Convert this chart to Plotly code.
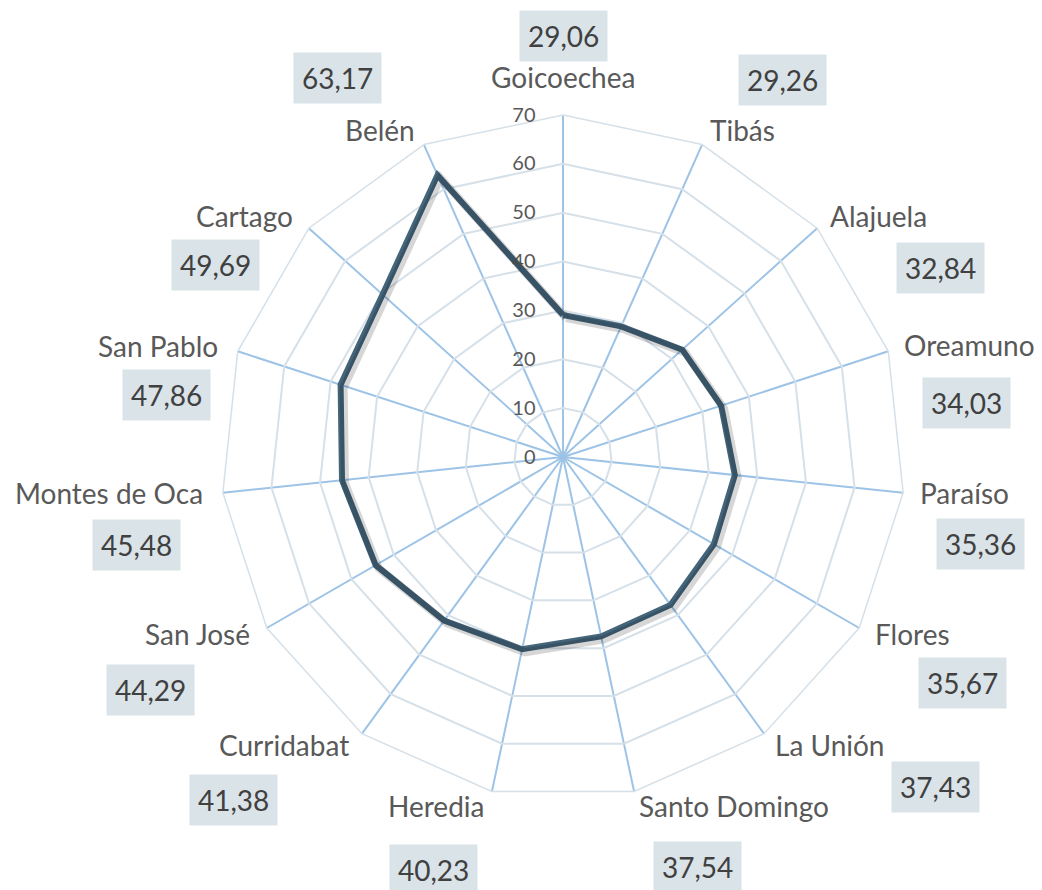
import plotly.graph_objects as go

categories = ["Goicoechea", "Tibás", "Alajuela", "Oreamuno", "Paraíso", "Flores",
              "La Unión", "Santo Domingo", "Heredia", "Curridabat", "San José",
              "Montes de Oca", "San Pablo", "Cartago", "Belén"]
values = [29.06, 29.26, 32.84, 34.03, 35.36, 35.67, 37.43, 37.54, 40.23, 41.38,
          44.29, 45.48, 47.86, 49.69, 63.17]
radial_ticks = [0, 10, 20, 30, 40, 50, 60, 70]

# ---- layout only: page-pixel anchor points of the text labels ----
W, H = 1042, 890
PAGE_OFF = 8  # default body margin of the html page
SH = 3        # shadow offset in px
ML, MR, MT, MB = 184 - PAGE_OFF, 100 + PAGE_OFF, 115 - PAGE_OFF, 91 + PAGE_OFF - SH
value_label_pos = [(563, 36), (782, 80), (940, 268), (966, 403), (981, 544), (962, 683),
                   (935, 787), (697, 867), (433, 870), (233, 800), (150, 690), (136, 545),
                   (166, 395), (215, 265), (337, 78)]
cat_label_pos = [(563, 77, "center"), (708, 130, "left"), (828, 216, "left"),
                 (902, 345, "left"), (918, 493, "left"), (873, 634, "left"),
                 (773, 745, "left"), (637, 806, "left"), (486, 806, "right"),
                 (351, 745, "right"), (252, 634, "right"), (205, 493, "right"),
                 (220, 346, "right"), (295, 216, "right"), (417, 130, "right")]

def fmt(v):
    return f"{v:.2f}".replace(".", ",")

FONT = "Lato"
pw = W - ML - MR
ph = H - MT - MB
D = 684  # diameter in px
cx_px = 563 - PAGE_OFF - ML
main_x = [(cx_px - D / 2) / pw, (cx_px + D / 2) / pw]
shad_x = [(cx_px - D / 2 + SH) / pw, (cx_px + D / 2 + SH) / pw]
main_y = [SH / ph, 1]
shad_y = [0, 1 - SH / ph]

fig = go.Figure()
closed_c = categories + [categories[0]]
closed_v = values + [values[0]]
fig.add_trace(go.Scatterpolar(r=closed_v, theta=closed_c, mode="lines", subplot="polar2",
                              line=dict(color="rgba(0,0,0,0.16)", width=8),
                              hoverinfo="skip", showlegend=False))
fig.add_trace(go.Scatterpolar(r=closed_v, theta=closed_c, mode="lines", subplot="polar",
                              line=dict(color="#436479", width=6),
                              showlegend=False))

def to_paper(px, py):
    fx, fy = px - PAGE_OFF, py - PAGE_OFF
    return (fx - ML) / pw, (H - MB - fy) / ph

for (px, py), v in zip(value_label_pos, values):
    x, y = to_paper(px, py)
    fig.add_annotation(x=x, y=y, xref="paper", yref="paper",
                       text=fmt(v), showarrow=False, bgcolor="#dae3e8",
                       borderpad=8, font=dict(family=FONT, size=28, color="#404040"),
                       xanchor="center", yanchor="middle")

for (px, py, anc), name in zip(cat_label_pos, categories):
    x, y = to_paper(px, py)
    fig.add_annotation(x=x, y=y, xref="paper", yref="paper",
                       text=name, showarrow=False,
                       font=dict(family=FONT, size=28, color="#595959"),
                       xanchor=anc, yanchor="middle")

angular_common = dict(direction="clockwise", rotation=90,
                      categoryorder="array", categoryarray=categories,
                      showticklabels=False, ticks="")
fig.update_layout(
    width=W, height=H,
    margin=dict(l=ML, r=MR, t=MT, b=MB),
    paper_bgcolor="white", plot_bgcolor="white",
    font=dict(family=FONT, color="#595959"),
    polar2=dict(
        bgcolor="rgba(0,0,0,0)",
        gridshape="linear",
        domain=dict(x=shad_x, y=shad_y),
        radialaxis=dict(range=[0, 70], showgrid=False, showline=False,
                        showticklabels=False, ticks=""),
        angularaxis=dict(showgrid=False, showline=False, **angular_common),
    ),
    polar=dict(
        bgcolor="rgba(0,0,0,0)",
        gridshape="linear",
        domain=dict(x=main_x, y=main_y),
        radialaxis=dict(range=[0, 70], tickvals=radial_ticks, angle=90,
                        side="counterclockwise", tickangle=90,
                        showline=False, ticks="outside", ticklen=20,
                        tickcolor="rgba(0,0,0,0)",
                        gridcolor="#d6e0e8", gridwidth=1.5,
                        tickfont=dict(family=FONT, size=20, color="#595959")),
        angularaxis=dict(showline=True, linecolor="#d6e0e8", linewidth=1.5,
                         gridcolor="#9dc3e6", gridwidth=1.5, **angular_common),
    ),
)
fig.write_html("out.html")
